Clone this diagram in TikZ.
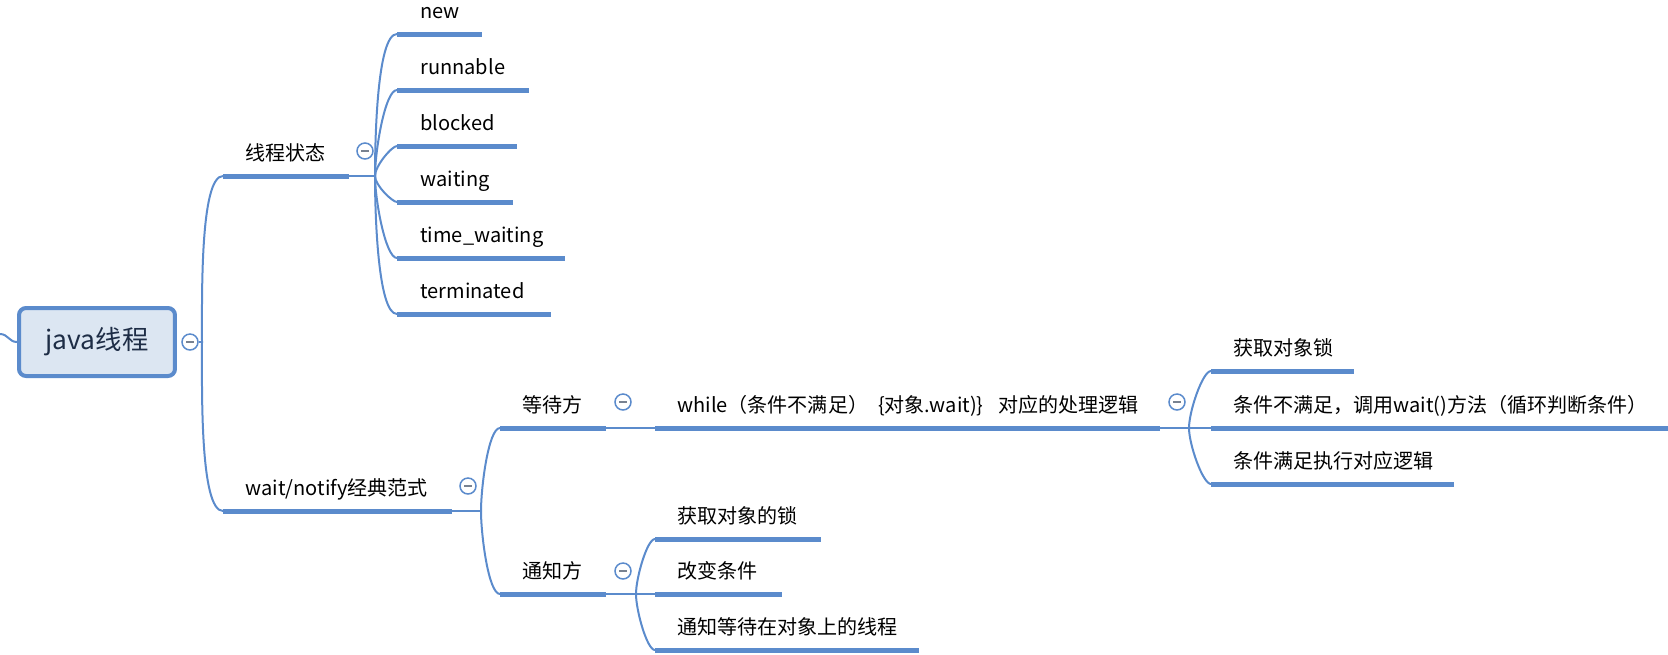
\documentclass[tikz,border=0pt]{standalone}
\usepackage{fontspec}
\setmainfont{Noto Sans CJK SC}

\definecolor{mmblue}{RGB}{91,139,204}
\definecolor{rootfill}{RGB}{220,230,242}
\definecolor{roottext}{RGB}{30,45,70}
\definecolor{foldgray}{RGB}{120,130,145}

\begin{document}
\begin{tikzpicture}[x=0.02cm,y=-0.02cm]

\tikzstyle{topicline} = [mmblue, line width=0.1cm];
\tikzstyle{twig} = [mmblue, line width=0.04cm];
\tikzstyle{twigup} = [out=90, in=180, out looseness=0.7, in looseness=0.35];
\tikzstyle{twigdown} = [out=-90, in=180, out looseness=0.7, in looseness=0.35];
\tikzstyle{topic} = [anchor=base west, inner sep=0pt, font=\fontsize{11.4}{13.7}\selectfont];
\tikzstyle{fold} = [circle, draw=mmblue, line width=0.03cm, fill=white, minimum size=0.32cm, inner sep=0pt,
  path picture={\draw[foldgray, line width=0.03cm] ([xshift=-2.2pt]path picture bounding box.center) -- ([xshift=2.2pt]path picture bounding box.center);}];

\useasboundingbox (0,0) rectangle (1668,654);

%root:
\node[draw=mmblue, line width=0.08cm, fill=rootfill, rounded corners=0.14cm, minimum width=3.12cm, minimum height=1.36cm,
  text=roottext, font=\fontsize{15}{18}\selectfont] (java) at (97,342) {java线程};
\node[fold] (javafold) at (190,342) {};
\coordinate (javafork) at (202,342);
\coordinate (outer) at (0,334);
\draw[twig] (outer) .. controls +(8,0) and +(-8,0) .. (java.west);
\draw[twig] (javafold.east) -- (javafork);

%线程状态:
\coordinate (stateL) at (223,176);
\coordinate (stateR) at (349,176);
\coordinate (statefork) at (375,176);
\draw[twig] (javafork) to[twigup] (stateL);
\draw[topicline] (stateL) -- (stateR);
\draw[twig] (stateR) -- (statefork);
\node[topic] (state) at (245,160) {线程状态};
\node[fold] (statefold) at (365,151) {};

\coordinate (newL) at (397,34);
\coordinate (newR) at (482,34);
\draw[topicline] (newL) -- (newR);
\node[topic] (new) at (420,18) {new};
\draw[twig] (statefork) to[twigup] (newL);

\coordinate (runL) at (397,90);
\coordinate (runR) at (529,90);
\draw[topicline] (runL) -- (runR);
\node[topic] (run) at (420,74) {runnable};
\draw[twig] (statefork) to[twigup] (runL);

\coordinate (blockL) at (397,146);
\coordinate (blockR) at (517,146);
\draw[topicline] (blockL) -- (blockR);
\node[topic] (block) at (420,130) {blocked};
\draw[twig] (statefork) to[twigup] (blockL);

\coordinate (waitingL) at (397,202);
\coordinate (waitingR) at (513,202);
\draw[topicline] (waitingL) -- (waitingR);
\node[topic] (waiting) at (420,186) {waiting};
\draw[twig] (statefork) to[twigdown] (waitingL);

\coordinate (timedL) at (397,258);
\coordinate (timedR) at (565,258);
\draw[topicline] (timedL) -- (timedR);
\node[topic] (timed) at (420,242) {time\_waiting};
\draw[twig] (statefork) to[twigdown] (timedL);

\coordinate (termL) at (397,314);
\coordinate (termR) at (551,314);
\draw[topicline] (termL) -- (termR);
\node[topic] (term) at (420,298) {terminated};
\draw[twig] (statefork) to[twigdown] (termL);

%wait/notify:
\coordinate (paradigmL) at (223,511);
\coordinate (paradigmR) at (452,511);
\coordinate (paradigmfork) at (481,511);
\draw[twig] (javafork) to[twigdown] (paradigmL);
\draw[topicline] (paradigmL) -- (paradigmR);
\draw[twig] (paradigmR) -- (paradigmfork);
\node[topic] (paradigm) at (245,495) {wait/notify经典范式};
\node[fold] (paradigmfold) at (468,486) {};

%等待方
\coordinate (waiterL) at (500,428);
\coordinate (waiterR) at (606,428);
\draw[twig] (paradigmfork) to[twigup] (waiterL);
\draw[topicline] (waiterL) -- (waiterR);
\node[topic] (waiter) at (522,412) {等待方};
\node[fold] (waiterfold) at (623,402) {};

\coordinate (loopL) at (655,428);
\coordinate (loopR) at (1160,428);
\coordinate (loopfork) at (1189,428);
\draw[twig] (waiterR) -- (loopL);
\draw[topicline] (loopL) -- (loopR);
\draw[twig] (loopR) -- (loopfork);
\node[topic] (loop) at (677,412) {while（条件不满足）\hspace{0.2cm}\{对象.wait)\}\hspace{0.3cm}对应的处理逻辑};
\node[fold] (loopfold) at (1177,402) {};

\coordinate (lockL) at (1211,371);
\coordinate (lockR) at (1354,371);
\draw[topicline] (lockL) -- (lockR);
\node[topic] (lock) at (1233,355) {获取对象锁};
\draw[twig] (loopfork) to[twigup] (lockL);

\coordinate (callL) at (1211,428);
\coordinate (callR) at (1668,428);
\draw[topicline] (callL) -- (callR);
\node[topic] (call) at (1233,412) {条件不满足，调用wait()方法（循环判断条件）};
\draw[twig] (loopfork) -- (callL);

\coordinate (runlogicL) at (1211,484);
\coordinate (runlogicR) at (1454,484);
\draw[topicline] (runlogicL) -- (runlogicR);
\node[topic] (runlogic) at (1233,468) {条件满足执行对应逻辑};
\draw[twig] (loopfork) to[twigdown] (runlogicL);

%通知方
\coordinate (notifierL) at (500,594);
\coordinate (notifierR) at (606,594);
\coordinate (notifierfork) at (636,594);
\draw[twig] (paradigmfork) to[twigdown] (notifierL);
\draw[topicline] (notifierL) -- (notifierR);
\draw[twig] (notifierR) -- (notifierfork);
\node[topic] (notifier) at (522,578) {通知方};
\node[fold] (notifierfold) at (623,571) {};

\coordinate (getlockL) at (655,539);
\coordinate (getlockR) at (821,539);
\draw[topicline] (getlockL) -- (getlockR);
\node[topic] (getlock) at (677,523) {获取对象的锁};
\draw[twig] (notifierfork) to[twigup] (getlockL);

\coordinate (changeL) at (655,594);
\coordinate (changeR) at (782,594);
\draw[topicline] (changeL) -- (changeR);
\node[topic] (change) at (677,578) {改变条件};
\draw[twig] (notifierfork) -- (changeL);

\coordinate (wakeL) at (655,650);
\coordinate (wakeR) at (919,650);
\draw[topicline] (wakeL) -- (wakeR);
\node[topic] (wake) at (677,634) {通知等待在对象上的线程};
\draw[twig] (notifierfork) to[twigdown] (wakeL);

\end{tikzpicture}
\end{document}
